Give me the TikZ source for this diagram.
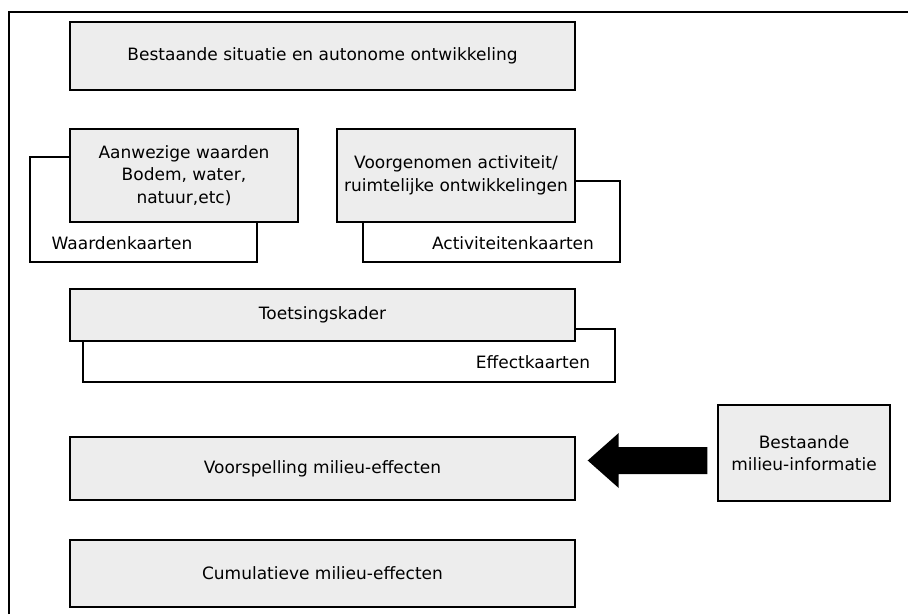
\documentclass[tikz,border=0pt]{standalone}
\usepackage{fontspec}
\setmainfont{DejaVu Sans}
\begin{document}
\begin{tikzpicture}[x=1pt,y=-1pt,
  box/.style={draw, line width=1.4pt, fill=black!7, inner sep=0pt, align=center,
    font=\fontsize{17}{22.5}\selectfont},
  card/.style={draw, line width=1.4pt, inner sep=0pt},
  lbl/.style={inner sep=0pt, font=\fontsize{17}{22.5}\selectfont},
  frameline/.style={line width=2pt}]
\useasboundingbox (0,0) rectangle (908,614);
\draw[frameline] (9,614) -- (9,12) -- (908,12);
% background cards
\node[card, minimum width=227pt, minimum height=105pt] (wk) at (143.5,209.5) {};
\node[card, minimum width=257pt, minimum height=81pt] (ak) at (491.5,221.5) {};
\node[card, minimum width=532pt, minimum height=53pt] (ek) at (349,355.5) {};
% boxes
\node[box, minimum width=505pt, minimum height=68pt] (b1) at (322.5,56) {Bestaande situatie en autonome ontwikkeling};
\node[box, minimum width=228pt, minimum height=93pt] (aw) at (184,175.5) {Aanwezige waarden\\Bodem, water,\\natuur,etc)};
\node[box, minimum width=238pt, minimum height=93pt] (vg) at (456,175.5) {Voorgenomen activiteit/\\ruimtelijke ontwikkelingen};
\node[box, minimum width=505pt, minimum height=52pt] (tk) at (322.5,315) {Toetsingskader};
\node[box, minimum width=505pt, minimum height=63pt] (vm) at (322.5,468.5) {Voorspelling milieu-effecten};
\node[box, minimum width=505pt, minimum height=67pt] (cm) at (322.5,573.5) {Cumulatieve milieu-effecten};
\node[box, minimum width=172pt, minimum height=96pt] (bmi) at (804,453) {Bestaande\\milieu-informatie};
% card labels
\node[lbl] (wkl) at (122,243) {Waardenkaarten};
\node[lbl] (akl) at (513,243) {Activiteitenkaarten};
\node[lbl] (ekl) at (533,362) {Effectkaarten};
% block arrow
\coordinate (atail) at ([shift={(-10,7.5)}]bmi.west);
\coordinate (atip) at ([xshift=12pt]vm.east |- atail);
\fill (atip) -- ([shift={(31,-27.5)}]atip) -- ([shift={(31,-13.5)}]atip)
  -- ([shift={(0,-13.5)}]atail) -- ([shift={(0,13.5)}]atail)
  -- ([shift={(31,13.5)}]atip) -- ([shift={(31,27.5)}]atip) -- cycle;
\end{tikzpicture}
\end{document}
